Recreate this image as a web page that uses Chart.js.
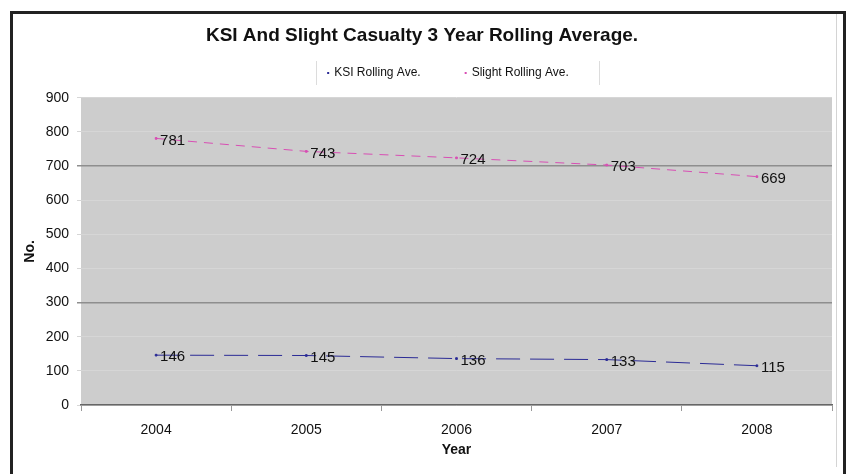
<!DOCTYPE html>
<html>
<head>
<meta charset="utf-8">
<script src="https://cdn.jsdelivr.net/npm/chart.js@4"></script>
<style>
  body { margin: 0; background: #fff; }
  #wrap { position: relative; width: 847px; height: 474px; }
  #frame { position: absolute; left: 10px; top: 11px; width: 830px; height: 470px;
           border: 3px solid #222; border-bottom: none; pointer-events: none; }
  #inner { position: absolute; left: 836px; top: 14px; width: 1px; height: 453px; background: #d4d4d4; }
</style>
</head>
<body>
<div id="wrap">
  <canvas id="chart" width="847" height="474"></canvas>
  <div id="frame"></div>
  <div id="inner"></div>
</div>
<script>
const years = ['2004', '2005', '2006', '2007', '2008'];
const ksiValues = [146, 145, 136, 133, 115];
const slightValues = [781, 743, 724, 703, 669];
const yTicks = [0, 100, 200, 300, 400, 500, 600, 700, 800, 900];

const FONT = 'Arial, "Liberation Sans", sans-serif';

// etiquetas de valor a la derecha de cada punto
const valueLabels = {
    id: 'valueLabels',
    afterDatasetsDraw(chart) {
        const ctx = chart.ctx;
        ctx.save();
        ctx.font = '15px ' + FONT;
        ctx.fillStyle = '#111';
        ctx.textAlign = 'left';
        ctx.textBaseline = 'middle';
        chart.data.datasets.forEach((ds, i) => {
            chart.getDatasetMeta(i).data.forEach((pt, j) => {
                ctx.fillText(String(ds.data[j]), pt.x + 4, pt.y + 2);
            });
        });
        ctx.restore();
    }
};

// fondo gris del area de trazado
const plotBackground = {
    id: 'plotBackground',
    beforeDraw(chart) {
        const a = chart.chartArea;
        const ctx = chart.ctx;
        ctx.save();
        ctx.fillStyle = '#cdcdcd';
        ctx.fillRect(a.left, a.top, a.right - a.left, a.bottom - a.top);
        ctx.restore();
    }
};

// leyenda dibujada a mano (desplazada a la derecha como en el original)
const customLegend = {
    id: 'customLegend',
    afterDraw(chart) {
        const ctx = chart.ctx;
        const cx = 448, cy = 73, gap = 44;
        ctx.save();
        ctx.font = '12px ' + FONT;
        const items = chart.data.datasets.map(ds => ({
            text: ds.label, color: ds.borderColor, w: 7 + ctx.measureText(ds.label).width
        }));
        const inner = items.reduce((s, it) => s + it.w, 0) + gap * (items.length - 1);
        let x = cx - inner / 2;
        ctx.strokeStyle = '#dcdcdc';
        ctx.lineWidth = 1;
        ctx.beginPath();
        ctx.moveTo(Math.round(x - 11) + 0.5, cy - 12);
        ctx.lineTo(Math.round(x - 11) + 0.5, cy + 12);
        ctx.moveTo(Math.round(x + inner + 30) + 0.5, cy - 12);
        ctx.lineTo(Math.round(x + inner + 30) + 0.5, cy + 12);
        ctx.stroke();
        ctx.textBaseline = 'middle';
        ctx.textAlign = 'left';
        items.forEach(it => {
            ctx.fillStyle = it.color;
            ctx.fillRect(x, cy - 1, 2, 2);
            ctx.fillStyle = '#111';
            ctx.fillText(it.text, x + 7, cy);
            x += it.w + gap;
        });
        ctx.restore();
    }
};

new Chart(document.getElementById('chart'), {
    type: 'line',
    data: {
        labels: years,
        datasets: [{
            label: 'KSI Rolling Ave.',
            data: ksiValues,
            borderColor: '#2b2b96',
            backgroundColor: '#2b2b96',
            borderWidth: 1,
            borderDash: [24, 10],
            pointStyle: 'rect',
            pointRadius: 1.2,
            tension: 0
        }, {
            label: 'Slight Rolling Ave.',
            data: slightValues,
            borderColor: '#d84fb4',
            backgroundColor: '#d84fb4',
            borderWidth: 1,
            borderDash: [9, 7],
            pointStyle: 'rect',
            pointRadius: 1.2,
            tension: 0
        }]
    },
    options: {
        responsive: false,
        animation: false,
        layout: {
            padding: { left: 12, right: 15, top: 0, bottom: 0 }
        },
        plugins: {
            title: {
                display: true,
                text: 'KSI And Slight Casualty 3 Year Rolling Average.',
                color: '#111',
                font: { family: FONT, size: 19, weight: 'bold' },
                padding: { top: 24, bottom: 51 }
            },
            legend: { display: false },
            tooltip: { enabled: false }
        },
        scales: {
            x: {
                offset: true,
                grid: {
                    offset: true,
                    drawOnChartArea: false,
                    color: '#999',
                    tickLength: 6
                },
                border: { color: '#666', width: 1.5 },
                ticks: {
                    color: '#111',
                    font: { family: FONT, size: 14 },
                    padding: 11
                },
                title: {
                    display: true,
                    text: 'Year',
                    color: '#111',
                    font: { family: FONT, size: 14, weight: 'bold' },
                    padding: { top: 0, bottom: 15 }
                },
                afterFit(axis) { axis.height = 69; }
            },
            y: {
                min: 0,
                max: 900,
                afterBuildTicks(axis) { axis.ticks = yTicks.map(v => ({ value: v })); },
                grid: {
                    color: ctx => (ctx.tick && (ctx.tick.value === 300 || ctx.tick.value === 700)) ? '#8e8e8e' : '#d6d6d6',
                    lineWidth: ctx => (ctx.tick && (ctx.tick.value === 300 || ctx.tick.value === 700)) ? 1.5 : 1,
                    tickLength: 4
                },
                border: { display: false },
                ticks: {
                    color: '#111',
                    font: { family: FONT, size: 14 },
                    padding: 8
                },
                title: {
                    display: true,
                    text: 'No.',
                    color: '#111',
                    font: { family: FONT, size: 14, weight: 'bold' },
                    padding: { top: 10, bottom: 2 }
                },
                afterFit(axis) { axis.width = 69; }
            }
        }
    },
    plugins: [plotBackground, valueLabels, customLegend]
});
</script>
</body>
</html>
